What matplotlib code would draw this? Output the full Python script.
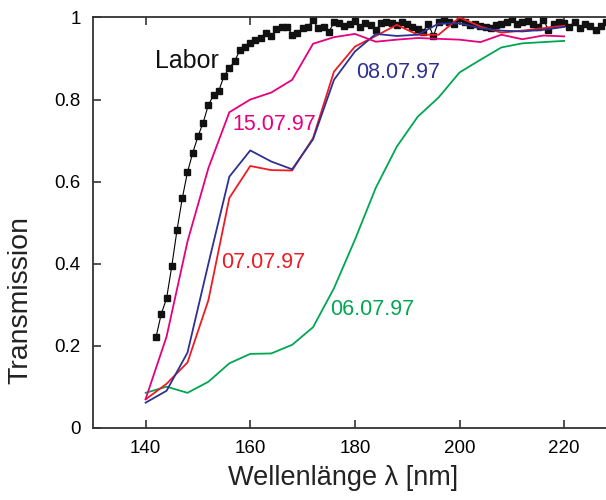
import numpy as np
import matplotlib
matplotlib.use('Agg')
import matplotlib.pyplot as plt

plt.rcParams['font.family'] = ['Liberation Sans', 'DejaVu Sans']

# wavelength grid of the field measurements (nm)
wl = [140, 144, 148, 152, 156, 160, 164, 168, 172, 176, 180,
      184, 188, 192, 196, 200, 204, 208, 212, 216, 220]

t_0607 = [0.085, 0.100, 0.085, 0.112, 0.157, 0.180, 0.181, 0.202, 0.245, 0.340, 0.458,
          0.585, 0.685, 0.758, 0.805, 0.866, 0.897, 0.927, 0.937, 0.940, 0.943]
t_0707 = [0.069, 0.107, 0.159, 0.311, 0.560, 0.638, 0.628, 0.627, 0.706, 0.868, 0.929,
          0.955, 0.982, 0.958, 0.958, 1.000, 0.978, 0.963, 0.968, 0.974, 0.980]
t_0807 = [0.061, 0.090, 0.183, 0.400, 0.612, 0.676, 0.649, 0.630, 0.703, 0.848, 0.917,
          0.960, 0.955, 0.958, 0.985, 0.986, 0.974, 0.968, 0.966, 0.970, 0.977]
t_1507 = [0.070, 0.222, 0.454, 0.633, 0.769, 0.800, 0.817, 0.848, 0.936, 0.952, 0.960,
          0.941, 0.946, 0.950, 0.948, 0.946, 0.940, 0.958, 0.947, 0.956, 0.954]

# laboratory reference, 1 nm steps
wl_lab = list(range(142, 229))
t_lab = [0.222, 0.278, 0.315, 0.394, 0.482, 0.559, 0.623, 0.670, 0.710, 0.744,
         0.787, 0.811, 0.822, 0.858, 0.877, 0.893, 0.920, 0.929, 0.937, 0.946,
         0.951, 0.962, 0.955, 0.972, 0.976, 0.978, 0.958, 0.963, 0.974, 0.978,
         0.993, 0.974, 0.978, 0.964, 0.988, 0.986, 0.980, 0.985, 0.992, 0.978,
         0.986, 0.981, 0.970, 0.986, 0.990, 0.986, 0.982, 0.990, 0.985, 0.978,
         0.972, 0.965, 0.985, 0.955, 0.990, 0.993, 0.988, 0.985, 0.998, 0.988,
         0.982, 0.983, 0.980, 0.976, 0.975, 0.982, 0.985, 0.990, 0.997, 0.985,
         0.988, 0.992, 0.985, 0.978, 0.995, 0.970, 0.985, 0.990, 0.987, 0.978,
         0.990, 0.975, 0.985, 0.980, 0.970, 0.980, 0.990]

x_ticks = [140, 160, 180, 200, 220]
y_ticks = [0, 0.2, 0.4, 0.6, 0.8, 1]
y_tick_labels = ['0', '0.2', '0.4', '0.6', '0.8', '1']

c_green = '#00a651'
c_red = '#ed1c24'
c_blue = '#2e3192'
c_pink = '#e6007e'

fig = plt.figure(figsize=(6.06, 5.0), dpi=100)
ax = fig.add_axes([0.154, 0.1446, 0.846, 0.8204])

ax.plot(wl_lab, t_lab, color='black', lw=0.8, marker='s', ms=4.4,
        mec='#111111', mfc='#111111', zorder=2)
ax.plot(wl, t_0607, color=c_green, lw=1.3, zorder=3)
ax.plot(wl, t_0707, color=c_red, lw=1.3, zorder=3)
ax.plot(wl, t_0807, color=c_blue, lw=1.3, zorder=3)
ax.plot(wl, t_1507, color=c_pink, lw=1.3, zorder=3)

ax.text(141.7, 0.877, 'Labor', fontsize=18, color='#111111')
ax.text(156.5, 0.726, '15.07.97', fontsize=15.5, color=c_pink)
ax.text(180.3, 0.852, '08.07.97', fontsize=15.5, color=c_blue)
ax.text(154.5, 0.389, '07.07.97', fontsize=15.5, color=c_red)
ax.text(175.2, 0.275, '06.07.97', fontsize=15.5, color=c_green)

ax.set_xlim(130, 228)
ax.set_ylim(0, 1)
ax.set_xticks(x_ticks)
ax.set_yticks(y_ticks)
ax.set_yticklabels(y_tick_labels)
ax.tick_params(direction='in', length=6, width=1.2, color='#333333',
               labelsize=13.5, top=True, right=False)
ax.tick_params(axis='x', pad=9)
ax.tick_params(axis='y', pad=9)
for side in ['left', 'bottom', 'top']:
    ax.spines[side].set_linewidth(1.3)
    ax.spines[side].set_color('#333333')
ax.spines['right'].set_visible(False)

fig.text(0.566, 0.018, 'Wellenlänge λ [nm]', fontsize=19.5, ha='center', va='bottom', color='#222222')
fig.text(0.012, 0.40, 'Transmission', fontsize=20.5, rotation=90, ha='left', va='center', color='#222222')

fig.savefig('out.png', dpi=100)
